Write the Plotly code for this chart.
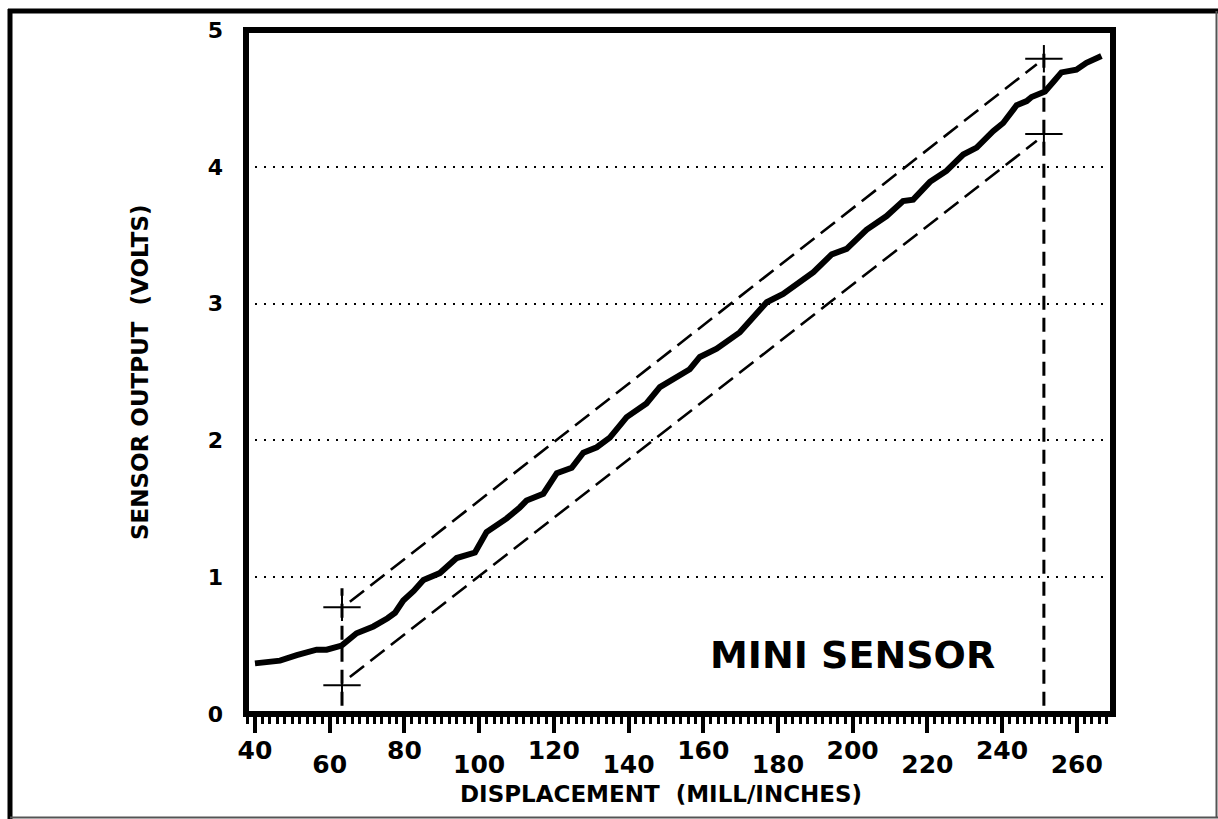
import plotly.graph_objects as go

# ---- data ----
disp = [40, 46.7, 51.2, 56.5, 59.2, 63.2, 67.2, 71.7, 75.5, 77.5, 79.7, 82.5, 85.1, 89.5,
        94.0, 98.9, 102.0, 107.4, 110.9, 112.7, 117.2, 120.8, 124.8, 127.9, 131.5, 135.0,
        139.5, 144.8, 148.4, 152.9, 156.4, 159.1, 163.6, 169.8, 173.4, 177.0, 181.4, 185.0,
        189.5, 194.4, 198.4, 203.7, 209.1, 213.5, 216.2, 220.7, 225.1, 229.6, 233.2, 237.6,
        240.3, 243.9, 246.6, 247.9, 251.5, 253.7, 255.9, 259.9, 262.6, 266.6]
volts = [0.37, 0.39, 0.43, 0.47, 0.47, 0.50, 0.59, 0.64, 0.70, 0.74, 0.83, 0.90, 0.98, 1.03,
         1.14, 1.18, 1.33, 1.43, 1.51, 1.56, 1.61, 1.76, 1.80, 1.91, 1.95, 2.02,
         2.17, 2.27, 2.39, 2.47, 2.52, 2.61, 2.67, 2.79, 2.90, 3.01, 3.07, 3.14,
         3.23, 3.36, 3.40, 3.54, 3.64, 3.75, 3.76, 3.89, 3.97, 4.09, 4.14, 4.26,
         4.32, 4.45, 4.48, 4.51, 4.55, 4.62, 4.69, 4.71, 4.76, 4.81]

band_x = [65.4, 249.3]
band_upper = [0.82, 4.75]
band_lower = [0.27, 4.19]

limit_x = [63.3, 251.2]
limit_hi = [0.78, 4.79]
limit_lo = [0.21, 4.24]
limit_top = [0.92, 4.87]
limit_bottom = 0.06
cross_half = 5.0

upper_ticks = [40, 80, 120, 160, 200, 240]
lower_ticks = [60, 100, 140, 180, 220, 260]
y_ticks = [0, 1, 2, 3, 4, 5]

x_title = "DISPLACEMENT  (MILL/INCHES)"
y_title = "SENSOR OUTPUT  (VOLTS)"
label = "MINI SENSOR"

X_RANGE = [37.6, 269.7]
Y_RANGE = [0, 5]
FONT = "DejaVu Sans"

fig = go.Figure()

# band dashed lines
for ys in (band_upper, band_lower):
    fig.add_trace(go.Scatter(x=band_x, y=ys, mode="lines",
                             line=dict(color="black", width=2.6, dash="18px,8px"),
                             showlegend=False, hoverinfo="skip"))

# vertical limit dashed lines and crosses
for i in range(2):
    fig.add_trace(go.Scatter(x=[limit_x[i], limit_x[i]], y=[limit_bottom, limit_top[i]],
                             mode="lines", line=dict(color="black", width=3, dash="14px,8px"),
                             showlegend=False, hoverinfo="skip"))
    for yy in (limit_hi[i], limit_lo[i]):
        fig.add_trace(go.Scatter(x=[limit_x[i] - cross_half, limit_x[i] + cross_half], y=[yy, yy],
                                 mode="lines", line=dict(color="black", width=2),
                                 showlegend=False, hoverinfo="skip"))
        fig.add_trace(go.Scatter(x=[limit_x[i], limit_x[i]], y=[yy - 0.1, yy + 0.1],
                                 mode="lines", line=dict(color="black", width=2),
                                 showlegend=False, hoverinfo="skip"))

# main sensor curve
fig.add_trace(go.Scatter(x=disp, y=volts, mode="lines",
                         line=dict(color="black", width=6),
                         showlegend=False, hoverinfo="skip"))

# dummy trace for second x axis (lower staggered labels)
fig.add_trace(go.Scatter(x=[None], y=[None], xaxis="x2", showlegend=False, hoverinfo="skip"))

tick_font = dict(family=FONT, size=25, color="black", weight="bold")

fig.update_layout(
    width=1218, height=819,
    margin=dict(l=246, r=105, t=30, b=105),
    paper_bgcolor="white", plot_bgcolor="white",
    xaxis=dict(range=X_RANGE, showgrid=False, zeroline=False, showline=False,
               tickmode="array", tickvals=upper_ticks + lower_ticks,
               ticktext=[str(v) for v in upper_ticks] + ["" for _ in lower_ticks],
               ticks="outside", ticklen=18, tickwidth=3.5, tickcolor="black",
               minor=dict(dtick=2, tick0=40, ticks="outside", ticklen=9, tickwidth=2.5,
                          tickcolor="black", showgrid=False),
               tickfont=tick_font, ticklabelstandoff=-4),
    xaxis2=dict(range=X_RANGE, overlaying="x", side="bottom", anchor="y",
                showgrid=False, zeroline=False, showline=False, ticks="",
                tickmode="array", tickvals=lower_ticks,
                ticktext=[str(v) for v in lower_ticks],
                tickfont=tick_font, ticklabelstandoff=33),
    yaxis=dict(range=Y_RANGE, tickmode="array", tickvals=y_ticks,
               ticktext=[str(v) for v in y_ticks], zeroline=False, showline=False,
               showgrid=True, gridcolor="black", gridwidth=2.2, griddash="2px,7px",
               ticks="", tickfont=dict(family=FONT, size=22, color="black", weight="bold"),
               ticklabelstandoff=22),
)

# plot frame
fig.add_shape(type="rect", xref="paper", yref="paper", x0=0, x1=1, y0=0, y1=1,
              line=dict(color="black", width=6), layer="above")

# outer page frame (px -> paper)
def px_x(p):
    return (p - 246) / 867.0

def px_y(p):
    return (714 - p) / 684.0

fig.add_shape(type="line", xref="paper", yref="paper", x0=px_x(10), x1=px_x(10),
              y0=px_y(9), y1=px_y(819), line=dict(color="black", width=5))
fig.add_shape(type="line", xref="paper", yref="paper", x0=px_x(8), x1=px_x(1218),
              y0=px_y(11), y1=px_y(11), line=dict(color="black", width=5))
fig.add_shape(type="line", xref="paper", yref="paper", x0=px_x(1216.5), x1=px_x(1216.5),
              y0=px_y(11), y1=px_y(818), line=dict(color="#555555", width=2))
fig.add_shape(type="line", xref="paper", yref="paper", x0=px_x(10), x1=px_x(1218),
              y0=px_y(817.5), y1=px_y(817.5), line=dict(color="#555555", width=2))

# titles and label
fig.add_annotation(text=x_title, xref="paper", yref="paper", x=px_x(661), y=px_y(794),
                   showarrow=False, xanchor="center", yanchor="middle",
                   font=dict(family=FONT, size=23, color="black", weight="bold"))
fig.add_annotation(text=y_title, xref="paper", yref="paper", x=px_x(140), y=px_y(372),
                   showarrow=False, textangle=-90, xanchor="center", yanchor="middle",
                   font=dict(family=FONT, size=23, color="black", weight="bold"))
fig.add_annotation(text=label, xref="x", yref="y", x=200, y=0.43, showarrow=False,
                   xanchor="center", yanchor="middle",
                   font=dict(family=FONT, size=38, color="black", weight="bold"))

fig.write_html("out.html")
